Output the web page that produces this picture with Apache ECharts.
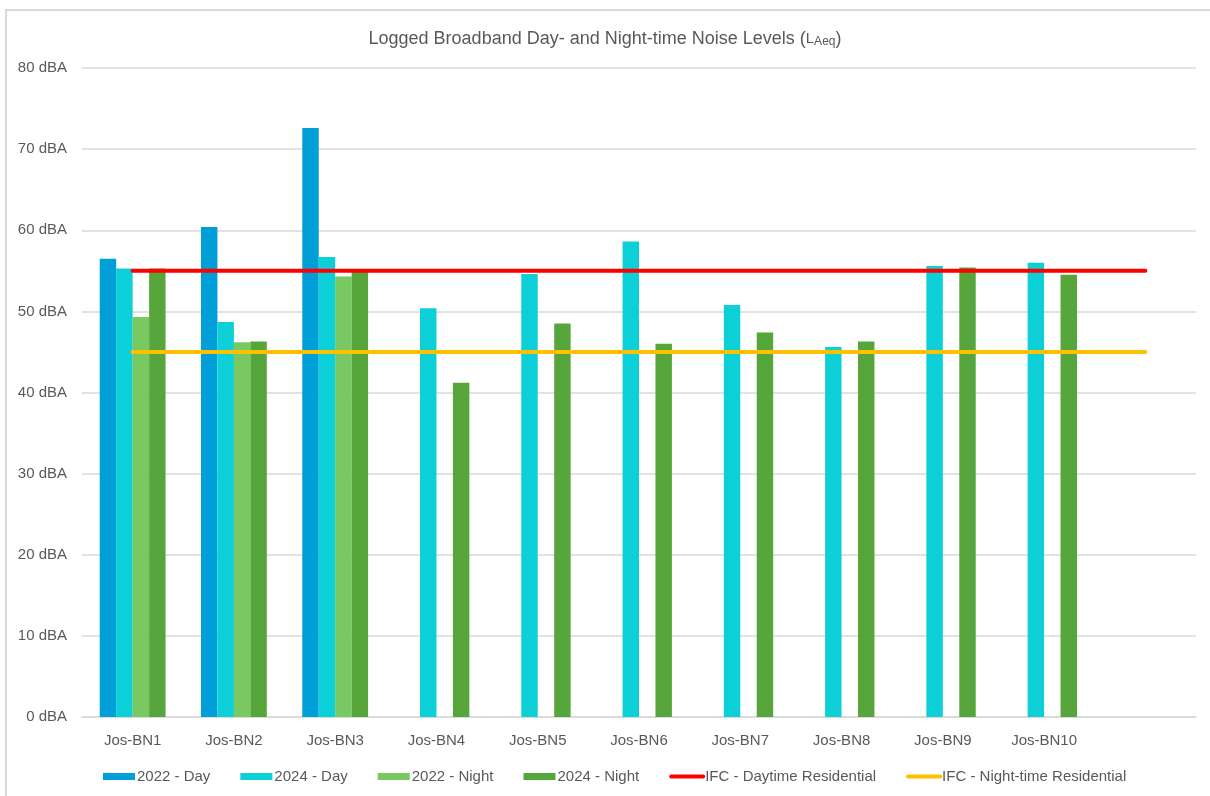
<!DOCTYPE html>
<html>
<head>
<meta charset="utf-8">
<script src="https://cdn.jsdelivr.net/npm/echarts@6/dist/echarts.min.js"></script>
<style>
  html, body { margin: 0; padding: 0; background: #fff; }
  #chart { width: 1210px; height: 796px; }
</style>
</head>
<body>
<div id="chart"></div>
<script>
// Monitoring locations (last slot left blank so the limit lines run past Jos-BN10)
const sites = ['Jos-BN1', 'Jos-BN2', 'Jos-BN3', 'Jos-BN4', 'Jos-BN5', 'Jos-BN6', 'Jos-BN7', 'Jos-BN8', 'Jos-BN9', 'Jos-BN10', ''];

// Logged LAeq values, dBA
const day2022   = [56.5, 60.4, 72.6, null, null, null, null, null, null, null, null];
const day2024   = [55.3, 48.7, 56.7, 50.4, 54.6, 58.6, 50.8, 45.6, 55.6, 56.0, null];
const night2022 = [49.3, 46.2, 54.3, null, null, null, null, null, null, null, null];
const night2024 = [55.3, 46.3, 54.9, 41.2, 48.5, 46.0, 47.4, 46.3, 55.4, 54.5, null];

// IFC residential guideline limits, dBA
const ifcDay   = [55, 55, 55, 55, 55, 55, 55, 55, 55, 55, 55];
const ifcNight = [45, 45, 45, 45, 45, 45, 45, 45, 45, 45, 45];

const yTicks = { min: 0, max: 80, interval: 10 };

const FONT = '"Liberation Sans", Arial, sans-serif';
const TEXT = '#595959';
const GRID = '#D9D9D9';

const chart = echarts.init(document.getElementById('chart'), null, { renderer: 'canvas' });

function barSeries(name, data, color) {
  return {
    name, type: 'bar', data,
    barGap: '0%', barCategoryGap: '35%',
    itemStyle: { color },
    emphasis: { disabled: true },
    z: 2
  };
}
function lineSeries(name, data, color) {
  return {
    name, type: 'line', data,
    symbol: 'none', showSymbol: false,
    lineStyle: { color, width: 4, cap: 'round' },
    itemStyle: { color },
    emphasis: { disabled: true },
    z: 5
  };
}
// Legend entry for a limit line: plain thick line, no marker
function lineLegend(name) {
  return {
    name,
    itemStyle: { opacity: 0, color: 'rgba(0,0,0,0)', borderWidth: 0 },
    lineStyle: { width: 4, cap: 'round' }
  };
}

chart.setOption({
  animation: false,
  backgroundColor: '#fff',
  textStyle: { fontFamily: FONT, color: TEXT },
  title: {
    text: 'Logged Broadband Day- and Night-time Noise Levels ({l|L}{s|Aeq})',
    left: 'center', top: 25,
    textStyle: {
      fontFamily: FONT, fontSize: 18, fontWeight: 'normal', color: TEXT,
      rich: {
        l: { fontFamily: FONT, fontSize: 15, color: TEXT },
        s: { fontFamily: FONT, fontSize: 12, color: TEXT, verticalAlign: 'bottom' }
      }
    }
  },
  grid: { left: 82, right: 14, top: 68, bottom: 79, containLabel: false },
  legend: {
    bottom: 12, left: 103, padding: 0,
    itemWidth: 32, itemHeight: 7, itemGap: 30,
    textStyle: { fontFamily: FONT, fontSize: 15, color: TEXT, padding: [0, 0, 0, -3] },
    data: [
      { name: '2022 - Day', icon: 'rect' },
      { name: '2024 - Day', icon: 'rect' },
      { name: '2022 - Night', icon: 'rect' },
      { name: '2024 - Night', icon: 'rect' },
      lineLegend('IFC - Daytime Residential'),
      lineLegend('IFC - Night-time Residential')
    ]
  },
  xAxis: {
    type: 'category', data: sites,
    axisLine: { lineStyle: { color: GRID, width: 1.5 } },
    axisTick: { show: false },
    axisLabel: { fontFamily: FONT, fontSize: 15, color: TEXT, margin: 16, interval: 0 },
    splitLine: { show: false }
  },
  yAxis: {
    type: 'value', min: yTicks.min, max: yTicks.max, interval: yTicks.interval,
    axisLine: { show: false },
    axisTick: { show: false },
    axisLabel: { fontFamily: FONT, fontSize: 15, color: TEXT, margin: 15, formatter: '{value} dBA' },
    splitLine: { lineStyle: { color: GRID, width: 1.5 } }
  },
  graphic: [
    { type: 'line', silent: true, shape: { x1: 5, y1: 10, x2: 1210, y2: 10 }, style: { stroke: GRID, lineWidth: 2 } },
    { type: 'line', silent: true, shape: { x1: 6, y1: 10, x2: 6, y2: 796 }, style: { stroke: GRID, lineWidth: 2 } }
  ],
  series: [
    barSeries('2022 - Day', day2022, '#009FD8'),
    barSeries('2024 - Day', day2024, '#0DCFD8'),
    barSeries('2022 - Night', night2022, '#78C961'),
    barSeries('2024 - Night', night2024, '#57A63B'),
    lineSeries('IFC - Daytime Residential', ifcDay, '#FF0000'),
    lineSeries('IFC - Night-time Residential', ifcNight, '#FFC000')
  ]
});
</script>
</body>
</html>
